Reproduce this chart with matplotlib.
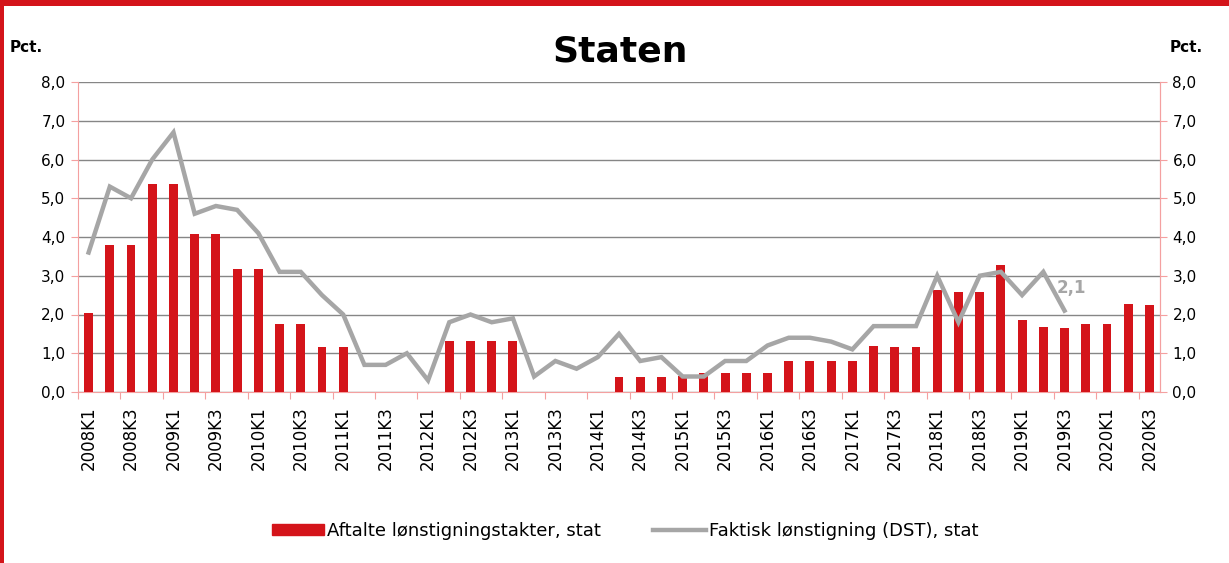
import matplotlib
matplotlib.use("Agg")
import matplotlib.pyplot as plt
import numpy as np
from matplotlib.patches import Rectangle
from matplotlib.lines import Line2D
from matplotlib.patches import Patch

plt.rcParams['font.family'] = ['DejaVu Sans']

years = list(range(2008, 2021))
quarters = [f"{y}K{q}" for y in years for q in range(1, 5)][:51]

aftalte = [2.05, 3.8, 3.8, 5.37, 5.37, 4.09, 4.09, 3.18, 3.18, 1.76, 1.76, 1.15, 1.15,
           0, 0, 0, 0,
           1.31, 1.31, 1.31, 1.31,
           0, 0, 0, 0,
           0.40, 0.40, 0.40, 0.42, 0.49, 0.50, 0.50, 0.50,
           0.79, 0.80, 0.79, 0.80,
           1.20, 1.16, 1.16,
           2.63, 2.59, 2.58, 3.27,
           1.86, 1.68, 1.66, 1.76,
           1.76, 2.26, 2.24]

faktisk = [3.6, 5.3, 5.0, 6.0, 6.7, 4.6, 4.8, 4.7, 4.1, 3.1, 3.1, 2.5, 2.0,
           0.7, 0.7, 1.0, 0.3,
           1.8, 2.0, 1.8, 1.9,
           0.4, 0.8, 0.6, 0.9,
           1.5, 0.8, 0.9, 0.4, 0.4, 0.8, 0.8, 1.2,
           1.4, 1.4, 1.3, 1.1,
           1.7, 1.7, 1.7,
           3.0, 1.8, 3.0, 3.1,
           2.5, 3.1, 2.1] + [np.nan] * 4

y_ticks = [0, 1, 2, 3, 4, 5, 6, 7, 8]
y_labels = ["0,0", "1,0", "2,0", "3,0", "4,0", "5,0", "6,0", "7,0", "8,0"]

RED = "#D4141A"
GRAY = "#A6A6A6"
PINK = "#F4A0A0"

fig = plt.figure(figsize=(12.29, 5.63), dpi=100)
ax = fig.add_axes([78/1229, 1-392/563, (1160-78)/1229, (392-82)/563])

x = np.arange(len(quarters))
ax.bar(x, aftalte, width=0.42, color=RED, zorder=3)
ax.plot(x, faktisk, color=GRAY, lw=3.2, zorder=4, solid_joinstyle='miter')

ax.set_xlim(-0.5, len(quarters) - 0.5)
ax.set_ylim(0, 8)
ax.set_yticks(y_ticks)
ax.set_yticklabels(y_labels, fontsize=11)
ax.yaxis.grid(True, color="#868686", lw=1.0, zorder=0)
ax.set_axisbelow(True)

# x ticks: tick marks between categories, labels every second category
ax.set_xticks(np.arange(-0.5, len(quarters), 2))
ax.set_xticklabels([])
ax.set_xticks(x[::2], minor=True)
ax.set_xticklabels([quarters[i] for i in x[::2]], minor=True, rotation=90, fontsize=12)
ax.tick_params(axis='x', which='major', length=5, color=PINK, direction='out')
ax.tick_params(axis='x', which='minor', length=0, pad=10)
ax.tick_params(axis='y', length=5, color=PINK, pad=4)

for s in ['top']:
    ax.spines[s].set_visible(False)
for s in ['left', 'right', 'bottom']:
    ax.spines[s].set_color(PINK)

ax2 = ax.twinx()
ax2.set_ylim(0, 8)
ax2.set_yticks(y_ticks)
ax2.set_yticklabels(y_labels, fontsize=11)
ax2.tick_params(axis='y', length=5, color=PINK, pad=4)
for s in ['top', 'left', 'bottom']:
    ax2.spines[s].set_visible(False)
ax2.spines['right'].set_color(PINK)

# value label on last line point
last = max(i for i, v in enumerate(faktisk) if not np.isnan(v))
ax.annotate(f"{faktisk[last]:.1f}".replace(".", ","), (x[last], faktisk[last]),
            xytext=(-6, 16), textcoords='offset points', color=GRAY,
            fontsize=12, fontweight='bold', ha='left', va='center', zorder=5)

fig.text(620/1229, 1-52/563, "Staten", fontsize=26, fontweight='bold', ha='center', va='center')
fig.text(10/1229, 1-47/563, "Pct.", fontsize=11, fontweight='bold', ha='left', va='center')
fig.text(1170/1229, 1-47/563, "Pct.", fontsize=11, fontweight='bold', ha='left', va='center')

handles = [Patch(facecolor=RED, edgecolor=RED), Line2D([0], [0], color=GRAY, lw=3.2)]
fig.legend(handles, ["Aftalte lønstigningstakter, stat", "Faktisk lønstigning (DST), stat"],
           loc='center', bbox_to_anchor=(625/1229, 1-531/563), ncol=2, frameon=False,
           fontsize=13, handlelength=2.9, handleheight=0.55, columnspacing=2.9,
           handletextpad=0.17)

# red frame
fig.patches.append(Rectangle((0, 1-6/563), 1, 6/563, transform=fig.transFigure,
                             facecolor=RED, edgecolor='none'))
fig.patches.append(Rectangle((0, 0), 4/1229, 1, transform=fig.transFigure,
                             facecolor=RED, edgecolor='none'))

fig.savefig("out.png", dpi=100)
